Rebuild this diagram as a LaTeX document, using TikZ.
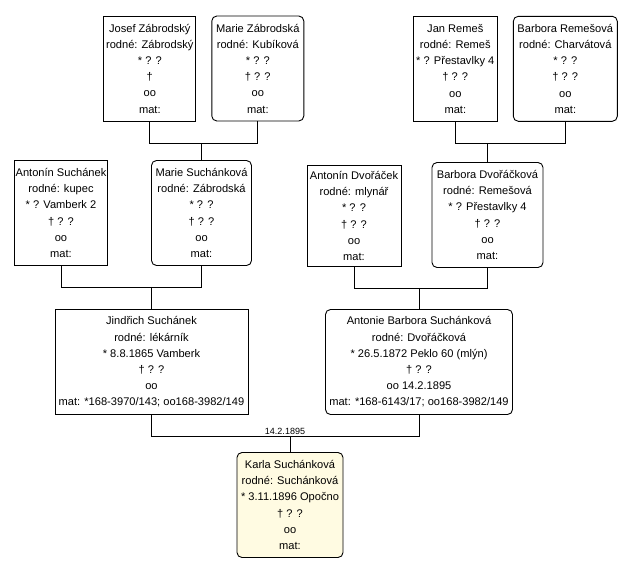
\documentclass[tikz,border=0pt]{standalone}
\usepackage{fontspec}
\setmainfont{Liberation Sans}
\usepackage{tikz}
\definecolor{cream}{RGB}{255,251,226}
\tikzset{
  person/.style   = {draw, line width=0.9pt, align=center, inner sep=1pt, minimum height=105pt, font=\fontsize{11.1}{16.2}\selectfont},
  male/.style     = {person, rectangle},
  female/.style   = {person, rectangle, rounded corners=5pt},
  proband/.style  = {female, fill=cream},
  wedding/.style  = {font=\fontsize{9}{10}\selectfont, inner sep=1pt}
}

\begin{document}
\begin{tikzpicture}[x=1pt, y=-1pt, line width=0.9pt, node distance=143pt]
\fill[white] (0,0) rectangle (637,568);
\useasboundingbox (0,0) rectangle (637,568);

% Proband
\draw node [proband, name=karla, minimum width=106pt] at (290,505) {Karla Suchánková\\rodné: Suchánková\\{}* 3.11.1896 Opočno\\† ? ?\\oo\\mat:};

% Parents
\draw node [male, name=jindrich, above of=karla, xshift=-138.5pt, minimum width=193pt] {Jindřich Suchánek\\rodné: lékárník\\{}* 8.8.1865 Vamberk\\† ? ?\\oo\\mat: *168-3970/143; oo168-3982/149};
\draw node [female, name=antonie, above of=karla, xshift=129pt, minimum width=187pt] {Antonie Barbora Suchánková\\rodné: Dvořáčková\\{}* 26.5.1872 Peklo 60 (mlýn)\\† ? ?\\oo 14.2.1895\\mat: *168-6143/17; oo168-3982/149};

% Grandparents
\draw node [male, name=antoninS, above of=jindrich, node distance=149pt, xshift=-90.5pt, minimum width=90pt] {Antonín Suchánek\\rodné: kupec\\{}* ? Vamberk 2\\† ? ?\\oo\\mat:};
\draw node [female, name=marieS, above of=jindrich, node distance=149pt, xshift=50pt, minimum width=100pt] {Marie Suchánková\\rodné: Zábrodská\\{}* ? ?\\† ? ?\\oo\\mat:};
\draw node [male, name=antoninD, above of=antonie, node distance=146pt, xshift=-65pt, minimum width=94pt, minimum height=101pt] {Antonín Dvořáček\\rodné: mlynář\\{}* ? ?\\† ? ?\\oo\\mat:};
\draw node [female, name=barboraD, above of=antonie, node distance=147pt, xshift=68.5pt, minimum width=111pt] {Barbora Dvořáčková\\rodné: Remešová\\{}* ? Přestavlky 4\\† ? ?\\oo\\mat:};

% Great-grandparents
\draw node [male, name=josef, above of=marieS, node distance=144.5pt, xshift=-51.7pt, minimum width=92pt] {Josef Zábrodský\\rodné: Zábrodský\\{}* ? ?\\†\\oo\\mat:};
\draw node [female, name=marieZ, above of=marieS, node distance=144.5pt, xshift=56.3pt, minimum width=92pt] {Marie Zábrodská\\rodné: Kubíková\\{}* ? ?\\† ? ?\\oo\\mat:};
\draw node [male, name=jan, above of=barboraD, node distance=146.2pt, xshift=-32.2pt, minimum width=84pt] {Jan Remeš\\rodné: Remeš\\{}* ? Přestavlky 4\\† ? ?\\oo\\mat:};
\draw node [female, name=barboraR, above of=barboraD, node distance=146.2pt, xshift=77.8pt, minimum width=104pt] {Barbora Remešová\\rodné: Charvátová\\{}* ? ?\\† ? ?\\oo\\mat:};

% Connections
\draw (josef.south) -- ++(0,22) coordinate (zab) -| (marieZ.south);
\draw (zab -| marieS.north) -- (marieS.north);
\draw (jan.south) -- ++(0,22) coordinate (rem) -| (barboraR.south);
\draw (rem -| barboraD.north) -- (barboraD.north);
\draw (antoninS.south) -- ++(0,21) coordinate (such) -| (marieS.south);
\draw (such -| jindrich.north) -- (jindrich.north);
\draw (antoninD.south) -- ++(0,21) coordinate (dvo) -| (barboraD.south);
\draw (dvo -| antonie.north) -- (antonie.north);
\draw (jindrich.south) -- ++(0,21) coordinate (wed) -| (antonie.south);
\draw (wed -| karla.north) -- (karla.north);
\node [wedding, above, xshift=-5pt] (date) at (wed -| karla.north) {14.2.1895};

\end{tikzpicture}
\end{document}
